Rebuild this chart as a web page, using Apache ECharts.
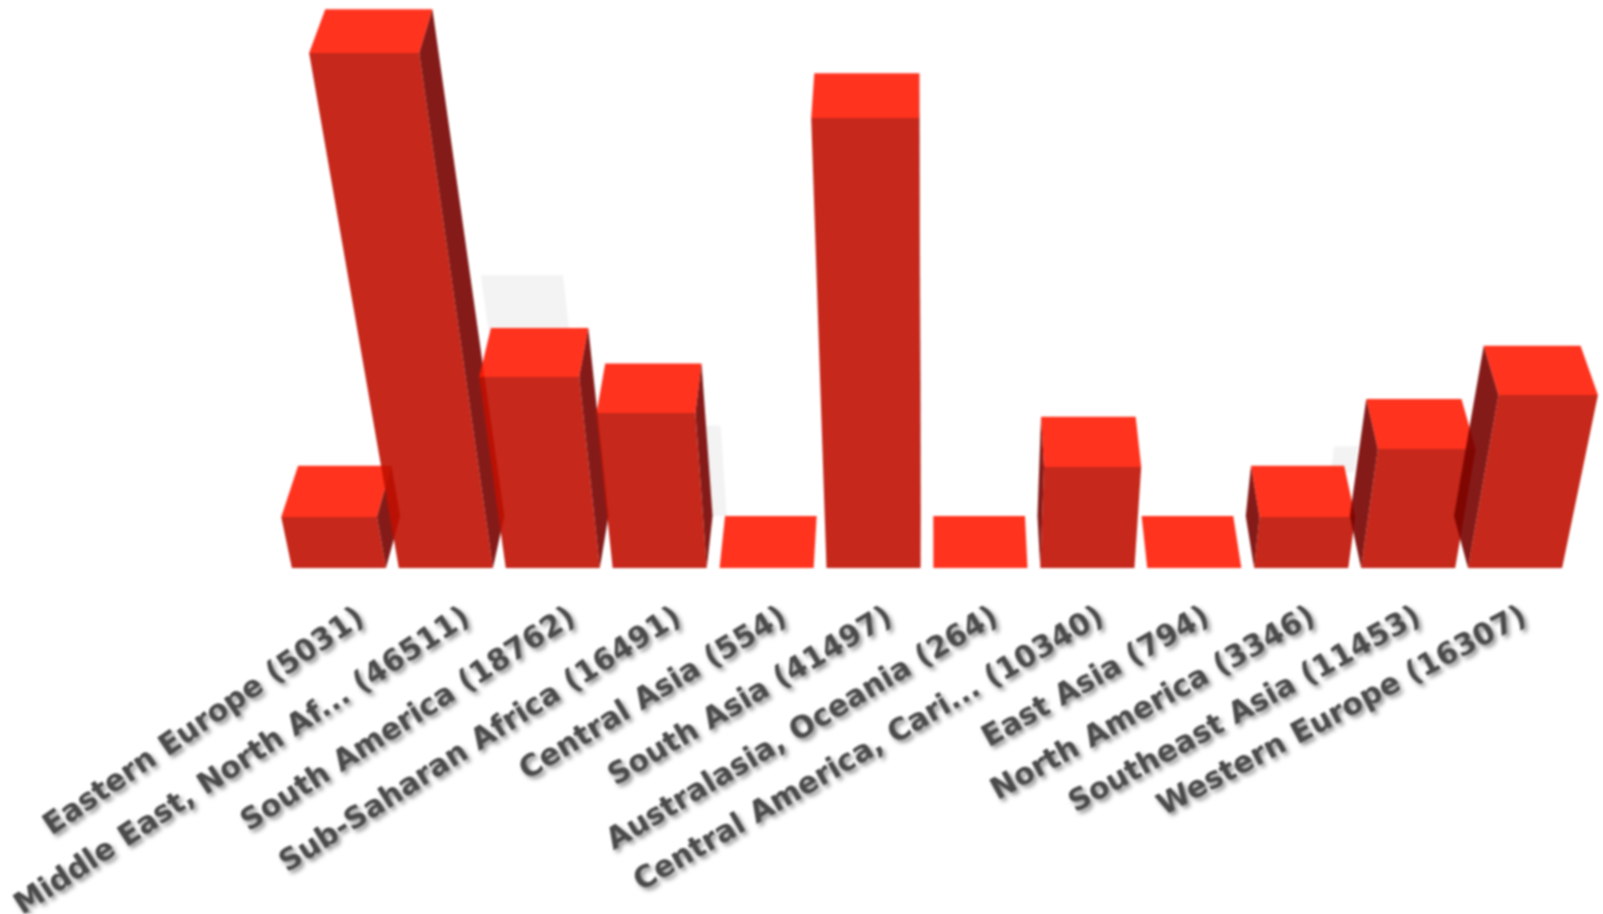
<!DOCTYPE html>
<html><head><meta charset="utf-8">
<style>html,body{margin:0;padding:0;background:#fff}#c{width:1603px;height:914px;filter:blur(1.1px)}</style>
<script src="https://cdn.jsdelivr.net/npm/echarts@6/dist/echarts.min.js"></script>
</head><body><div id="c"></div>
<script>
const categories = ["Eastern Europe","Middle East, North Af...","South America","Sub-Saharan Africa","Central Asia","South Asia","Australasia, Oceania","Central America, Cari...","East Asia","North America","Southeast Asia","Western Europe"];
const labelValues = [5031,46511,18762,16491,554,41497,264,10340,794,3346,11453,16307];
// bar heights, in the same units (the picture draws them in coarse steps)
const drawnHeights = [4606,46511,17250,14000,0,40640,0,9120,0,4606,10750,15620];
const labelAngles = [34.3,33.2,32.6,32.4,31.2,30.5,30.6,30.1,29.5,29.2,28.8,28];
const ghostCategories = [2,3,10];
const ghostHeights = [22100,8300,6400];
const ghostBottoms = [17000,0,4000];
const ghostShift = [-0.10,0.506,-0.568];
const ghostHalfWidth = [0.365,0.07,0.11];

const VANISH_X = 930, PERSPECTIVE = 3050, BACK_RATIO = 0.974, BAR_FRACTION = 0.88, LABEL_GAP = 47;
const COL_FRONT = 'rgba(192,17,2,0.9)', COL_TOP = 'rgba(255,29,5,0.9)', COL_SIDE = 'rgba(120,2,0,0.9)';

function proj(x, baseY, h, back) {
  let px = VANISH_X + (x - VANISH_X) * (1 + h / PERSPECTIVE);
  let py = baseY - h;
  if (back) {
    px = VANISH_X + (px - VANISH_X) * BACK_RATIO;
    py -= 52 - h * 0.016;
  }
  return [px, py];
}
function poly(points, fill) {
  return {type:'polygon', shape:{points}, style:{fill}};
}
function renderBar(params, api) {
  const idx = api.value(0), val = api.value(1);
  const base = api.coord([idx, 0]), top = api.coord([idx, val]);
  const band = api.size([1, 0])[0], half = band * BAR_FRACTION / 2;
  const xl = base[0] - half, xr = base[0] + half, y0 = base[1], h = y0 - top[1];
  const fl = proj(xl, y0, h, false), fr = proj(xr, y0, h, false);
  const bl = proj(xl, y0, h, true), br = proj(xr, y0, h, true);
  const children = [];
  if (h > 0) {
    const sideX = base[0] < VANISH_X ? xr : xl;
    children.push(poly([proj(sideX, y0, h, false), proj(sideX, y0, h, true), proj(sideX, y0, 0, true), proj(sideX, y0, 0, false)], COL_SIDE));
    children.push(poly([fl, fr, proj(xr, y0, 0, false), proj(xl, y0, 0, false)], COL_FRONT));
  }
  children.push(poly([fl, fr, br, bl], COL_TOP));
  return {type:'group', children};
}
function renderGhost(params, api) {
  const i = params.dataIndex, idx = api.value(0), val = api.value(1);
  const base = api.coord([idx, 0]), top = api.coord([idx, val]), low = api.coord([idx, api.value(2)]);
  const band = api.size([1, 0])[0], half = band * ghostHalfWidth[i];
  const c = base[0] + ghostShift[i] * band, y0 = base[1], h = y0 - top[1], b = y0 - low[1];
  return poly([proj(c - half, y0, h, true), proj(c + half, y0, h, true), proj(c + half, y0, b, true), proj(c - half, y0, b, true)], '#f3f3f3');
}
function renderLabel(params, api) {
  const i = params.dataIndex, base = api.coord([i, 0]);
  return {
    type:'text', x:base[0], y:base[1] + LABEL_GAP, rotation:labelAngles[i] * Math.PI / 180,
    style:{text:categories[i] + ' (' + labelValues[i] + ')', fill:'#4a4a4a',
      font:'bold 30px "DejaVu Sans"', textAlign:'right', textVerticalAlign:'middle', verticalAlign:'middle',
      textShadowColor:'rgba(0,0,0,0.45)', textShadowBlur:4, textShadowOffsetX:3, textShadowOffsetY:3}
  };
}
const chart = echarts.init(document.getElementById('c'), null, {renderer:'canvas'});
chart.setOption({
  animation:false,
  backgroundColor:'#fff',
  grid:[
    {left:285.5, width:1283, bottom:346, height:553.6},
    {left:308.5, width:1269, bottom:346, height:553.6}
  ],
  xAxis:[
    {gridIndex:0, type:'category', data:categories, show:false},
    {gridIndex:1, type:'category', data:categories, show:false}
  ],
  yAxis:[
    {gridIndex:0, type:'value', min:0, max:50000, show:false},
    {gridIndex:1, type:'value', min:0, max:50000, show:false}
  ],
  series:[
    {type:'custom', xAxisIndex:0, yAxisIndex:0, clip:false, z:1, renderItem:renderGhost,
     encode:{x:0,y:1}, data:ghostCategories.map((c,i)=>[c,ghostHeights[i],ghostBottoms[i]])},
    {type:'custom', xAxisIndex:0, yAxisIndex:0, clip:false, z:2, renderItem:renderBar,
     encode:{x:0,y:1}, data:categories.map((c,i)=>[i,drawnHeights[i]])},
    {type:'custom', xAxisIndex:1, yAxisIndex:1, clip:false, z:3, renderItem:renderLabel,
     encode:{x:0,y:1}, data:categories.map((c,i)=>[i,0])}
  ]
});
</script></body></html>
